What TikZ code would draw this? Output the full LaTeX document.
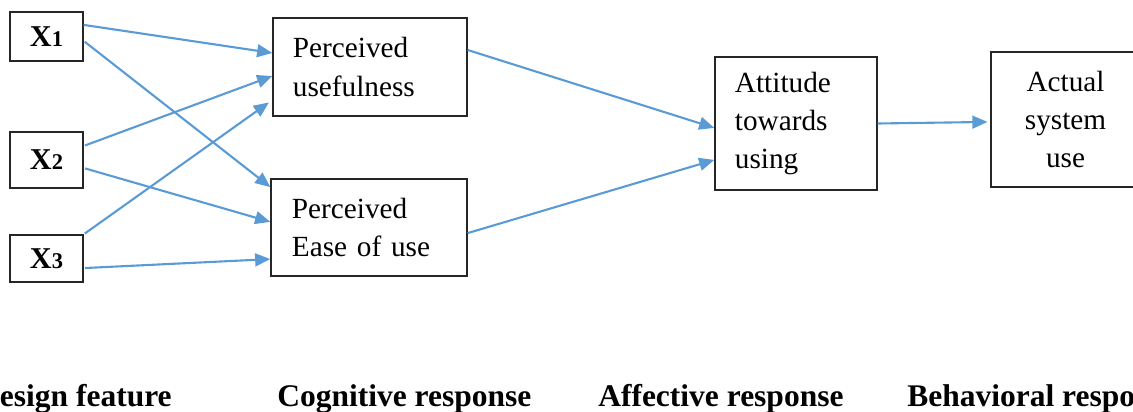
\documentclass[tikz,border=0pt]{standalone}
\usepackage{fontspec}
\setmainfont{Liberation Serif}
\usepackage{tikz}
\usetikzlibrary{arrows.meta, positioning}
\definecolor{arrowblue}{HTML}{5B9BD5}

\begin{document}
\begin{tikzpicture}[
  x=0.025cm, y=-0.025cm,
  box/.style={draw=black!85, line width=0.9pt, inner sep=0pt, font=\fontsize{20.8}{27.3}\selectfont},
  txtbox/.style={box, align=left},
  feat/.style={box, font=\fontsize{21.5}{25}\selectfont\bfseries, minimum width=1.825cm},
  grp/.style={font=\fontsize{22.4}{26}\selectfont\bfseries, inner sep=0pt, anchor=base west},
  arrow/.style={-{Triangle[length=0.38cm, width=0.32cm]}, line width=1.5pt, draw=arrowblue}
]
  \useasboundingbox (0,0) rectangle (1133,412);

  % Design features
  \node[feat, minimum height=1.225cm] (x1) at (46.5, 36.5) {X{\fontsize{16}{16}\selectfont 1}};
  \node[feat, minimum height=1.4cm]   (x2) at (46.5, 160)  {X{\fontsize{16}{16}\selectfont 2}};
  \node[feat, minimum height=1.175cm] (x3) at (46.5, 258.5) {X{\fontsize{16}{16}\selectfont 3}};

  % Responses
  \node[txtbox, minimum width=4.85cm, minimum height=2.45cm, text width=3.85cm] (pu) at (370, 67)
    {Perceived\\usefulness};
  \node[txtbox, minimum width=4.9cm, minimum height=2.425cm, text width=3.85cm] (peou) at (369, 227.5)
    {Perceived\\Ease of use};
  \node[txtbox, minimum width=4.05cm, minimum height=3.325cm, text width=3.05cm] (atu) at (796, 123.5)
    {Attitude\\towards\\using};
  \node[box, align=center, minimum width=3.725cm, minimum height=3.375cm] (asu) at (1065.5, 119.5)
    {Actual\\system\\use};

  % Links
  \draw[arrow] ([yshift=0.29cm]x1.east) -- ([yshift=0.35cm]pu.west);
  \draw[arrow, shorten <=1pt] ([yshift=-0.11cm]x1.east) -- ([yshift=1.01cm]peou.west);
  \draw[arrow, shorten <=1pt] ([yshift=0.35cm]x2.east) -- ([yshift=-0.225cm]pu.west);
  \draw[arrow, shorten <=1pt] ([yshift=-0.2cm]x2.east) -- ([yshift=0.14cm]peou.west);
  \draw[arrow, shorten <=1pt, shorten >=3pt] (x3.north east) -- ([yshift=-0.825cm]pu.west);
  \draw[arrow, shorten <=1pt] ([yshift=-0.24cm]x3.east) -- ([yshift=-0.79cm]peou.west);
  \draw[arrow] ([yshift=0.425cm]pu.east) -- ([yshift=-0.11cm]atu.west);
  \draw[arrow] ([yshift=-0.14cm]peou.east) -- ([yshift=-0.91cm]atu.west);
  \draw[arrow, shorten >=2pt] (atu.east) -- ([yshift=-0.06cm]asu.west);

  % Group labels
  \node[grp, anchor=base east] (design) at (172, 407) {Design feature};
  \node[grp] (cognitive) at (277, 407) {Cognitive response};
  \node[grp] (affective) at (598, 407) {Affective response};
  \node[grp] (behavioral) at (907, 407) {Behavioral response};
\end{tikzpicture}
\end{document}
